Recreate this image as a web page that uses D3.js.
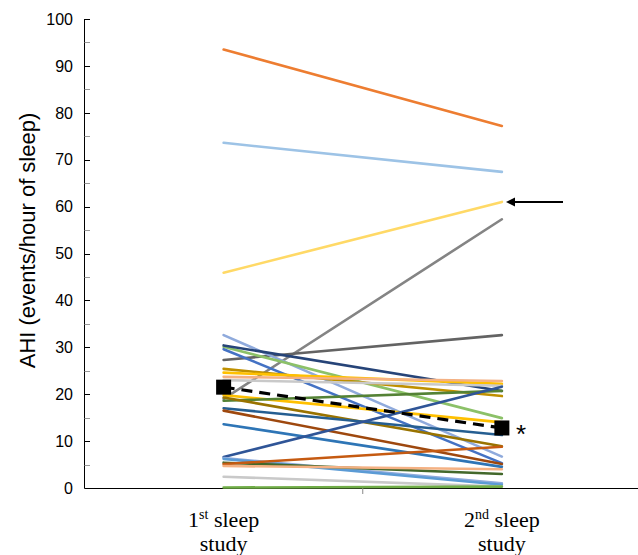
<!DOCTYPE html>
<html><head><meta charset="utf-8">
<script src="https://cdn.jsdelivr.net/npm/d3@7"></script>
<style>body{margin:0;background:#fff}</style>
</head><body>
<svg id="c" width="638" height="555"></svg>
<script>
const categories = ["1st", "2nd"];
const catLabels = [["1", "st", " sleep"], ["2", "nd", " sleep"]];
const yTicks = [0,10,20,30,40,50,60,70,80,90,100];
// AHI per subject at the 1st and 2nd sleep study
const study1 = [93.5, 73.6, 45.9, 19.0, 27.3, 32.6, 30.1, 30.4, 29.6, 25.4, 24.6, 23.7, 23.0, 19.8, 18.6, 19.3, 17.0, 16.5, 13.6, 6.6, 6.4, 6.2, 5.4, 5.1, 4.7, 2.4, 0.1];
const study2 = [77.2, 67.4, 61.0, 57.3, 32.6, 6.7, 14.9, 20.7, 5.3, 19.6, 22.2, 22.8, 21.8, 14.0, 20.7, 8.9, 11.3, 5.1, 4.5, 21.6, 1.0, 0.7, 3.0, 8.8, 4.0, 0.3, 0.3];
const palette = ["#ED7D31","#9DC3E6","#FFD966","#848484","#636363","#8FAADC","#8CC168","#264478","#4472C4","#BF9000","#FFC000","#F4B183","#C9C9C9","#FFC000","#548235","#997300","#255E91","#9E480E","#2E75B6","#2F5597","#8FAADC","#5B9BD5","#43682B","#C55A11","#F4B183","#C9C9C9","#70AD47"];
const meanValues = [21.5, 12.8];

const svg = d3.select("#c");
const x = d3.scaleBand().domain(categories).range([84.5, 641]).paddingInner(0).paddingOuter(0);
const cx = c => x(c) + x.bandwidth()/2;
const y = d3.scaleLinear().domain([0,100]).range([488, 19]);

// y axis
const ya = svg.append("g");
ya.append("line").attr("x1",84.5).attr("x2",84.5).attr("y1",y(100)).attr("y2",y(0)).attr("stroke","#000").attr("stroke-width",1);
d3.range(0,101,5).forEach(v=>{
  ya.append("line").attr("x1",84.5).attr("x2",90).attr("y1",Math.round(y(v))+0.5).attr("y2",Math.round(y(v))+0.5)
    .attr("stroke", v%10===0 ? "#000" : "#999").attr("stroke-width",1);
});
ya.selectAll("text").data(yTicks).join("text")
  .attr("x",73).attr("y",d=>y(d)).attr("dy","0.36em").attr("text-anchor","end")
  .attr("font-family","Liberation Sans, Arial, sans-serif").attr("font-size",16).attr("fill","#000").text(d=>d);
svg.append("text").attr("transform",`translate(27,${(y(0)+y(100))/2 - 13}) rotate(-90)`)
  .attr("text-anchor","middle").attr("dy","0.35em")
  .attr("font-family","Liberation Sans, Arial, sans-serif").attr("font-size",22).text("AHI (events/hour of sleep)");

// x axis
svg.append("line").attr("x1",84.5).attr("x2",638).attr("y1",488.5).attr("y2",488.5).attr("stroke","#000").attr("stroke-width",1);
svg.append("line").attr("x1",x("2nd")).attr("x2",x("2nd")).attr("y1",488).attr("y2",494).attr("stroke","#888").attr("stroke-width",1);
categories.forEach((c,i)=>{
  const t = svg.append("text").attr("x",cx(c)).attr("y",527).attr("text-anchor","middle")
    .attr("font-family","Liberation Serif, Times New Roman, serif").attr("font-size",22);
  t.append("tspan").text(catLabels[i][0]);
  t.append("tspan").attr("dy",-8).attr("font-size",14).text(catLabels[i][1]);
  t.append("tspan").attr("dy",8).text(catLabels[i][2]);
  svg.append("text").attr("x",cx(c)).attr("y",551).attr("text-anchor","middle")
    .attr("font-family","Liberation Serif, Times New Roman, serif").attr("font-size",22).text("study");
});

// subject lines
const data = study1.map((v,i)=>({a:v,b:study2[i],c:palette[i]}));
svg.append("g").selectAll("line").data(data).join("line")
  .attr("x1",cx("1st")).attr("x2",cx("2nd")).attr("y1",d=>y(d.a)).attr("y2",d=>y(d.b))
  .attr("stroke",d=>d.c).attr("stroke-width",2.6).attr("stroke-linecap","round");

// mean line
svg.append("line").attr("x1",cx("1st")).attr("x2",cx("2nd")).attr("y1",y(meanValues[0])).attr("y2",y(meanValues[1]))
  .attr("stroke","#000").attr("stroke-width",3.2).attr("stroke-dasharray","11,7");
svg.selectAll("rect.m").data(meanValues).join("rect").attr("class","m")
  .attr("x",(d,i)=>cx(categories[i])-7.5).attr("y",d=>y(d)-7.5).attr("width",15).attr("height",15).attr("fill","#000");
svg.append("text").attr("x",cx("2nd")+14).attr("y",y(meanValues[1])+15)
  .attr("font-family","Liberation Sans, Arial, sans-serif").attr("font-size",26).text("*");

// arrow
const ay = y(study2[2]);
svg.append("line").attr("x1",563).attr("x2",512).attr("y1",ay).attr("y2",ay).attr("stroke","#000").attr("stroke-width",2);
svg.append("path").attr("d",`M${506},${ay} l9,-4.5 l0,9 z`).attr("fill","#000");
</script>
</body></html>
